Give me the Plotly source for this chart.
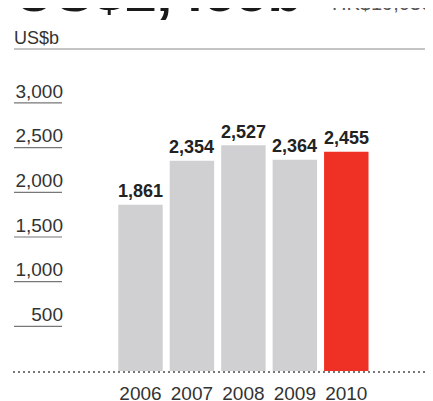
import plotly.graph_objects as go

years = ["2006", "2007", "2008", "2009", "2010"]
values = [1861, 2354, 2527, 2364, 2455]
value_labels = ["1,861", "2,354", "2,527", "2,364", "2,455"]
bar_colors = ["#d0d0d2", "#d0d0d2", "#d0d0d2", "#d0d0d2", "#ee3124"]
y_ticks = [500, 1000, 1500, 2000, 2500, 3000]
y_tick_labels = ["500", "1,000", "1,500", "2,000", "2,500", "3,000"]
title_main = "US$2,455b"
title_sub = "HK$19,030b"
unit_label = "US$b"

W, H = 433, 401
OFF = 8  # page body margin
L, R, T, B = 58, 0, 52, 38
PH = H - T - B
FONT = "Liberation Sans, Arial, sans-serif"

def py(p):
    return (H - B - (p - OFF)) / PH

def px(p):
    return (p - OFF - L) / (W - L - R)

fig = go.Figure()
fig.add_trace(go.Bar(
    x=list(range(len(years))), y=values,
    marker=dict(color=bar_colors, line=dict(width=0)),
    hoverinfo="skip",
))

shapes = []
for v in y_ticks:
    shapes.append(dict(type="line", xref="paper", xsizemode="pixel", xanchor=0,
                       x0=-52, x1=-4, yref="y", y0=v, y1=v,
                       line=dict(color="#777777", width=1.2)))
shapes.append(dict(type="line", xref="paper", xsizemode="pixel", xanchor=0,
                   x0=-53, x1=W - L, yref="paper", ysizemode="pixel", yanchor=0,
                   y0=-1, y1=-1,
                   line=dict(color="#777777", width=2, dash="2px,3px")))
shapes.append(dict(type="line", xref="paper", xsizemode="pixel", xanchor=0,
                   x0=-52, x1=W - L, yref="paper", ysizemode="pixel", yanchor=1,
                   y0=11, y1=11,
                   line=dict(color="#888888", width=1)))

annotations = []
for i, (v, t) in enumerate(zip(values, value_labels)):
    annotations.append(dict(x=i, y=v, xref="x", yref="y", text=t, showarrow=False,
                            yanchor="middle", yshift=13.5,
                            font=dict(family=FONT, size=18, color="#222222", weight="bold")))
annotations.append(dict(x=px(12), y=py(-8.75), xref="paper", yref="paper",
                        text=title_main, showarrow=False, xanchor="left", yanchor="middle",
                        font=dict(family=FONT, size=57, color="#1a1a1a", weight="bold")))
annotations.append(dict(x=px(330), y=py(3.5), xref="paper", yref="paper",
                        text=title_sub, showarrow=False, xanchor="left", yanchor="middle",
                        font=dict(family=FONT, size=20, color="#555555")))
annotations.append(dict(x=px(12), y=py(38.5), xref="paper", yref="paper",
                        text=unit_label, showarrow=False, xanchor="left", yanchor="middle",
                        font=dict(family=FONT, size=18, color="#333333")))

fig.update_layout(
    width=W, height=H,
    margin=dict(l=L, r=R, t=T, b=B, pad=0),
    paper_bgcolor="white", plot_bgcolor="white",
    showlegend=False, bargap=0.136,
    shapes=shapes, annotations=annotations,
    xaxis=dict(range=[-1.448, 5.841], tickvals=list(range(len(years))), ticktext=years,
               showgrid=False, zeroline=False, showline=False, ticks="",
               tickfont=dict(family=FONT, size=19, color="#333333"),
               ticklabelstandoff=9, fixedrange=True),
    yaxis=dict(range=[0, 3481], tickvals=y_ticks, ticktext=y_tick_labels,
               showgrid=False, zeroline=False, showline=False, ticks="",
               tickfont=dict(family=FONT, size=19, color="#333333"),
               ticklabelshift=-12, ticklabelstandoff=2, fixedrange=True),
)

fig.write_html("out.html", config={"displayModeBar": False})
